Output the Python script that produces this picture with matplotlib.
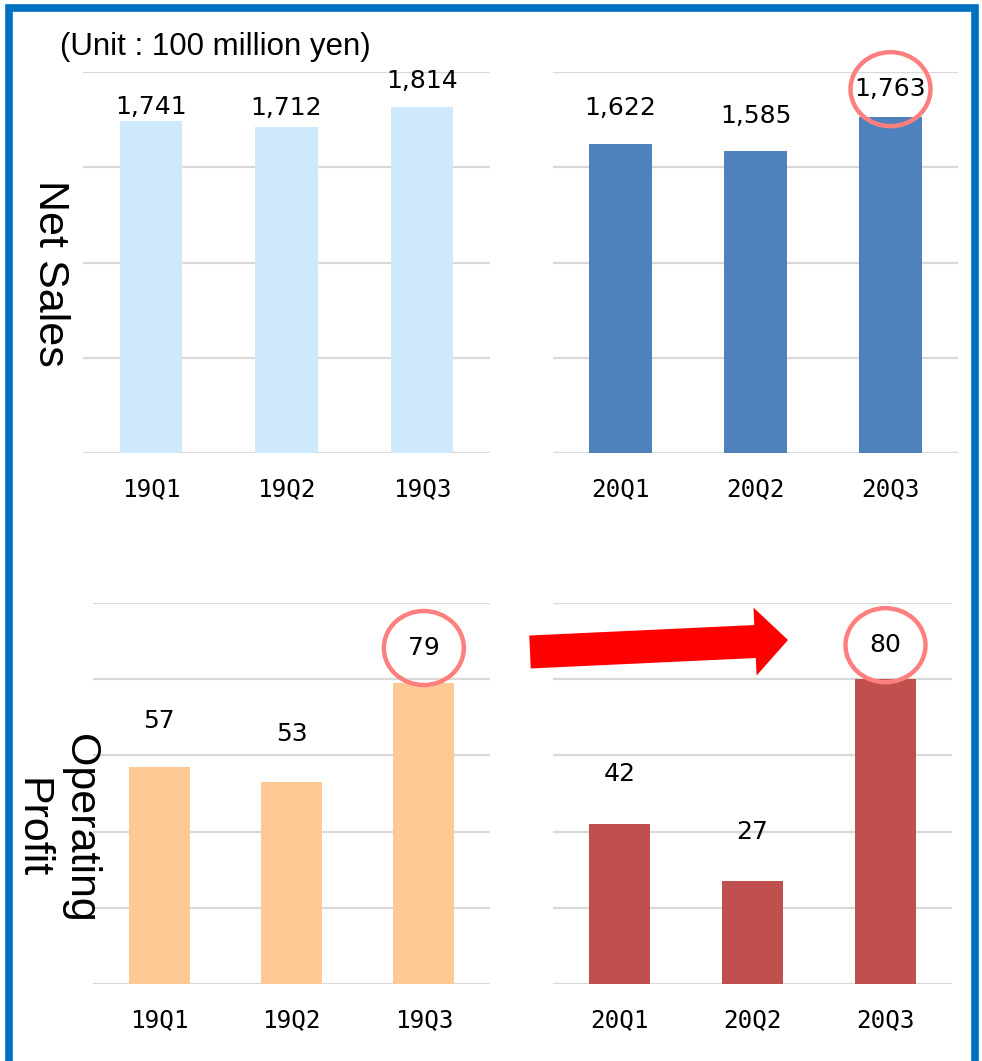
import matplotlib.pyplot as plt
import matplotlib.transforms as mtransforms
from matplotlib.patches import Ellipse, FancyArrow, Rectangle

# data
cats_19 = ['19Q1', '19Q2', '19Q3']
cats_20 = ['20Q1', '20Q2', '20Q3']
ventas_19 = [1741, 1712, 1814]
ventas_20 = [1622, 1585, 1763]
utilidad_19 = [57, 53, 79]
utilidad_20 = [42, 27, 80]

# label offsets above the bar top (pixels), the labels were placed by hand
off_ventas_19 = [14, 19, 26]
off_ventas_20 = [36, 35, 28]
off_util_19 = [46, 48, 35]
off_util_20 = [50, 49, 34]

W, H = 982, 1061
fig = plt.figure(figsize=(W / 100, H / 100), dpi=100)
fig.patch.set_facecolor('white')

num_font = ['DejaVu Sans']
tick_font = ['DejaVu Sans Mono']
txt_font = ['Liberation Sans', 'DejaVu Sans']


def caja(x0, y0, x1, y1):
    # pixel box (top-left origin) -> figure fraction
    return [x0 / W, 1 - y1 / H, (x1 - x0) / W, (y1 - y0) / H]


def panel(rect, cats, vals, offs, color, ymax, step, circulo=None):
    ax = fig.add_axes(rect)
    xs = range(len(cats))
    ax.bar(xs, vals, width=0.46, color=color, zorder=2)
    ax.set_xlim(-0.5, len(cats) - 0.5)
    ax.set_ylim(0, ymax)
    ax.set_yticks(range(0, ymax + 1, step))
    ax.yaxis.grid(True, color='#d9d9d9', lw=1.6, zorder=0)
    ax.set_yticklabels([])
    ax.set_xticks(list(xs))
    ax.set_xticklabels(cats, family=tick_font, fontsize=17.5)
    ax.tick_params(length=0, pad=17)
    for s in ax.spines.values():
        s.set_visible(False)
    for i, (v, o) in enumerate(zip(vals, offs)):
        ax.annotate(f'{v:,}', (i, v), xytext=(0, o), textcoords='offset pixels',
                    ha='center', va='center', fontsize=18, family=num_font)
    if circulo is not None:
        i = circulo
        tr = fig.dpi_scale_trans + mtransforms.ScaledTranslation(i, vals[i], ax.transData)
        ax.add_patch(Ellipse((0, offs[i] / 100), 0.80, 0.74, transform=tr,
                             fill=False, ec='#ff7f7f', lw=3.2, clip_on=False, zorder=5))
    return ax


panel(caja(83, 72, 490, 453), cats_19, ventas_19, off_ventas_19, '#cde9fb', 2000, 500)
panel(caja(553, 72, 958, 453), cats_20, ventas_20, off_ventas_20, '#4f81bd', 2000, 500, circulo=2)
panel(caja(93, 603, 490, 984), cats_19, utilidad_19, off_util_19, '#fec995', 100, 20, circulo=2)
panel(caja(553, 603, 952, 984), cats_20, utilidad_20, off_util_20, '#c0504d', 100, 20, circulo=2)

fig.text(60 / W, 1 - 47 / H, '(Unit : 100 million yen)', family=txt_font,
         fontsize=22.5, va='center', ha='left')
fig.text(50 / W, 1 - 273 / H, 'Net Sales', family=txt_font, fontsize=31,
         rotation=270, ha='center', va='center')
fig.text(56 / W, 1 - 828 / H, 'Operating\nProfit', family=txt_font, fontsize=31,
         rotation=270, ha='center', va='center', multialignment='center', linespacing=1.27)

# flecha roja entre paneles (pulgadas)
fig.patches.append(FancyArrow(5.30, (H - 652) / 100, 2.58, 0.12, width=0.33,
                              head_width=0.68, head_length=0.33, length_includes_head=True,
                              color='#ff0000', lw=0, transform=fig.dpi_scale_trans))

# marco azul (sin borde inferior)
fig.patches.append(Rectangle((8.5 / W, -0.05), (W - 16) / W, 1 - 8.5 / H + 0.05,
                             fill=False, ec='#0070c0', lw=5.5, transform=fig.transFigure))

fig.savefig('out.png', dpi=100)
